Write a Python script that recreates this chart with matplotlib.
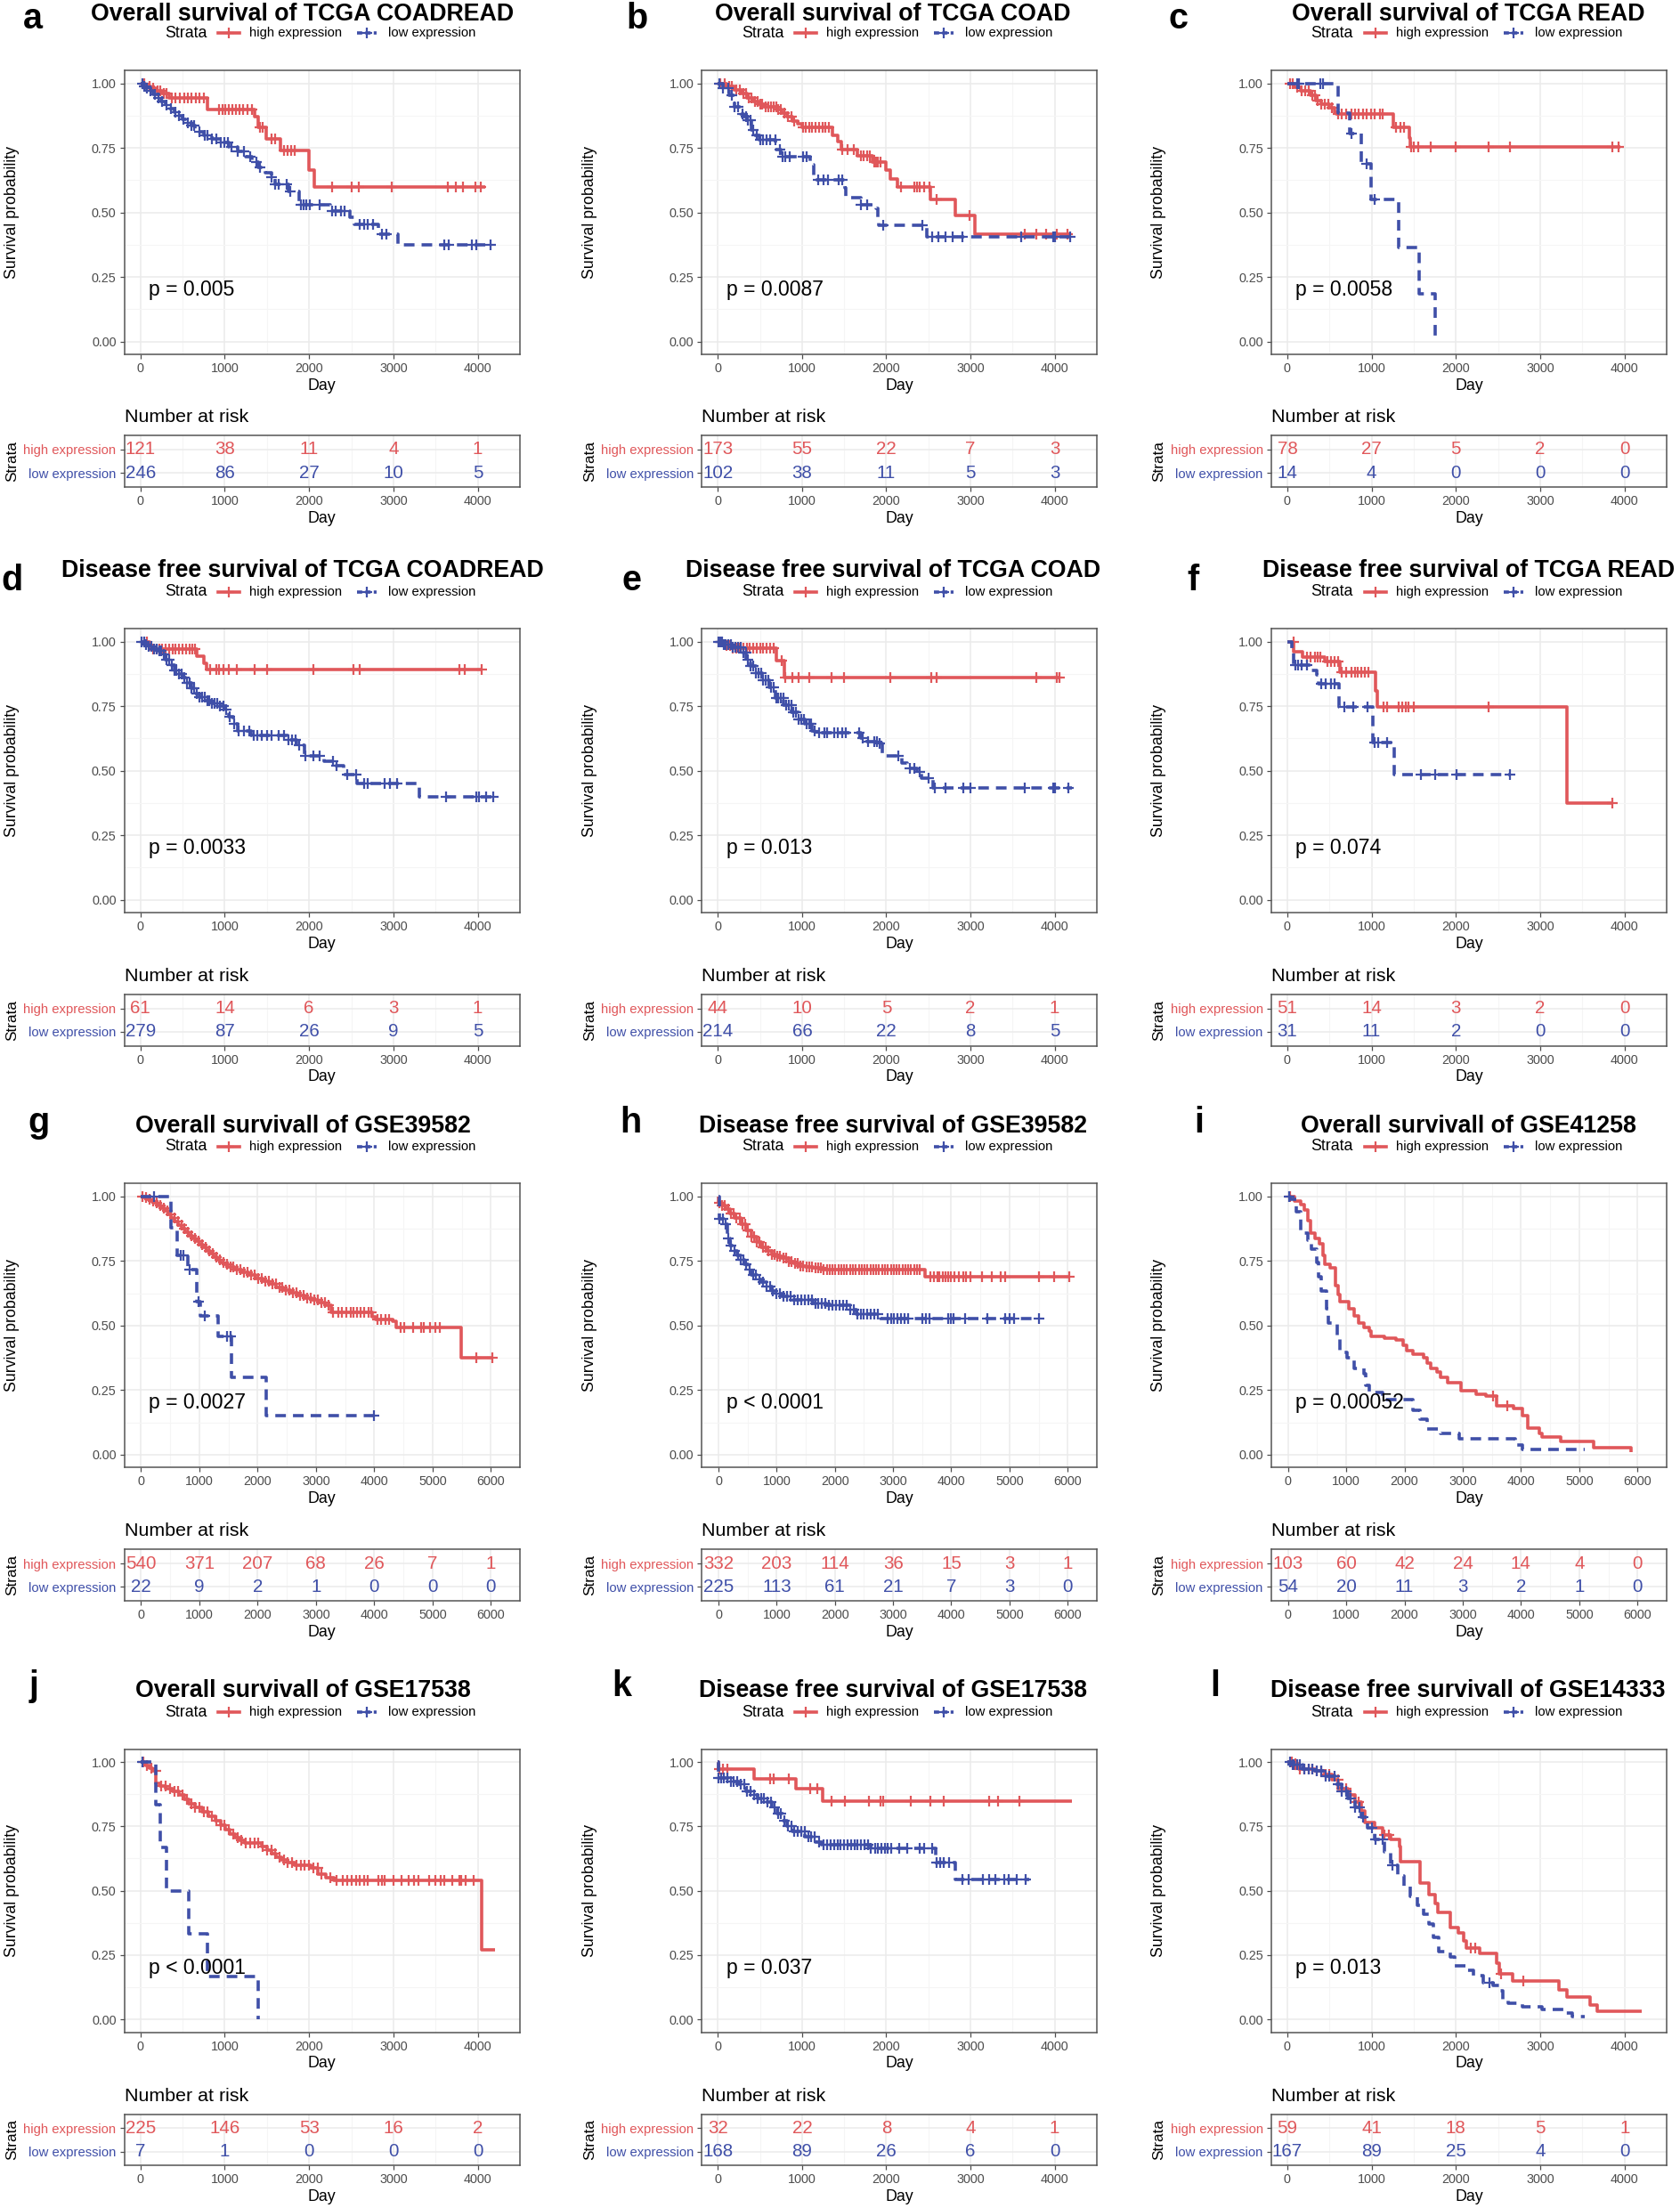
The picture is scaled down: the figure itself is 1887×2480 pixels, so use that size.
import numpy as np
import matplotlib
matplotlib.use("Agg")
import matplotlib.pyplot as plt

plt.rcParams["font.family"] = ["Liberation Sans", "DejaVu Sans"]

RED = "#E0575A"
BLUE = "#3F4FA8"
GRID = "#EBEBEB"
TICKC = "#4D4D4D"
W, H = 1887, 2480

# ---------------- data (step times, survival after step, last follow-up, censor times) ----------------
# a: OS TCGA COADREAD
a_hi_t = [60, 120, 180, 260, 340, 790, 1350, 1395, 1490, 1660, 2000, 2060]
a_hi_s = [0.99, 0.98, 0.97, 0.96, 0.945, 0.90, 0.87, 0.83, 0.785, 0.74, 0.665, 0.60]
a_hi_end = 4090
a_hi_c = [40, 110, 150, 200, 230, 280, 310, 370, 420, 470, 520, 560, 610, 660, 700, 750, 930, 970, 1010, 1050,
          1090, 1130, 1180, 1220, 1270, 1320, 1420, 1450, 1560, 1600, 1700, 1750, 1790, 1830, 2270, 2500, 2590,
          2980, 3640, 3740, 3820, 3970, 4040]
a_lo_t = [30, 60, 100, 150, 200, 250, 300, 350, 400, 450, 500, 550, 600, 650, 700, 750, 850, 950, 1050, 1150,
          1250, 1320, 1400, 1480, 1550, 1600, 1760, 1880, 2250, 2480, 2540, 2820, 3050]
a_lo_s = [0.99, 0.982, 0.97, 0.957, 0.944, 0.93, 0.916, 0.902, 0.888, 0.874, 0.86, 0.848, 0.836, 0.824, 0.812,
          0.80, 0.785, 0.77, 0.755, 0.735, 0.715, 0.695, 0.675, 0.655, 0.635, 0.61, 0.58, 0.53, 0.505, 0.483,
          0.455, 0.417, 0.374]
a_lo_end = 4170
a_lo_c = [20, 50, 80, 120, 170, 210, 260, 310, 360, 410, 460, 510, 560, 600, 640, 700, 760, 800, 850, 900, 950,
          1000, 1040, 1080, 1150, 1230, 1300, 1380, 1420, 1560, 1600, 1640, 1730, 1780, 1900, 1930, 1970, 2010,
          2130, 2270, 2320, 2380, 2420, 2600, 2650, 2700, 2760, 2860, 2920, 3600, 3660, 3930, 3980, 4150]
a_risk_hi = [121, 38, 11, 4, 1]
a_risk_lo = [246, 86, 27, 10, 5]

# b: OS TCGA COAD
b_hi_t = [100, 200, 280, 350, 420, 480, 550, 700, 760, 820, 880, 950, 1000, 1360, 1426, 1465, 1660, 1836,
          1990, 2050, 2130, 2520, 2815, 3047]
b_hi_s = [0.99, 0.975, 0.96, 0.945, 0.93, 0.92, 0.91, 0.90, 0.885, 0.87, 0.855, 0.845, 0.83, 0.80, 0.775,
          0.745, 0.72, 0.695, 0.665, 0.63, 0.597, 0.55, 0.487, 0.417]
b_hi_end = 4190
b_hi_c = [30, 80, 130, 170, 220, 260, 300, 330, 370, 400, 440, 470, 500, 530, 570, 600, 630, 660, 690, 720,
          750, 790, 830, 870, 910, 1010, 1040, 1080, 1120, 1160, 1200, 1240, 1280, 1320, 1480, 1540, 1610, 1700,
          1730, 1770, 1800, 1860, 1880, 1900, 1930, 2170, 2330, 2370, 2400, 2450, 2510, 2600, 2990, 3640, 3780,
          3900, 4020, 4150]
b_lo_t = [60, 137, 195, 273, 300, 352, 400, 430, 490, 684, 742, 1094, 1133, 1504, 1523, 1700, 1875, 1895,
          1914, 2480]
b_lo_s = [0.98, 0.955, 0.91, 0.883, 0.87, 0.857, 0.82, 0.80, 0.78, 0.745, 0.715, 0.686, 0.627, 0.594, 0.558,
          0.529, 0.516, 0.483, 0.45, 0.404]
b_lo_end = 4190
b_lo_c = [20, 60, 120, 160, 200, 240, 290, 330, 360, 390, 420, 460, 500, 540, 580, 620, 680, 740, 770, 800,
          850, 1010, 1050, 1190, 1250, 1310, 1430, 1480, 1700, 1770, 1960, 2430, 2540, 2620, 2700, 2790, 2900,
          3600, 3980, 4000, 4180]
b_risk_hi = [173, 55, 22, 7, 3]
b_risk_lo = [102, 38, 11, 5, 3]

# c: OS TCGA READ
c_hi_t = [80, 160, 280, 340, 400, 500, 560, 580, 1254, 1445, 1457]
c_hi_s = [0.985, 0.97, 0.955, 0.935, 0.92, 0.905, 0.89, 0.88, 0.83, 0.79, 0.755]
c_hi_end = 3950
c_hi_c = [30, 60, 120, 170, 210, 250, 300, 330, 360, 400, 440, 490, 530, 600, 640, 700, 760, 800, 850, 900,
          940, 990, 1040, 1100, 1130, 1290, 1340, 1380, 1470, 1500, 1550, 1700, 2000, 2390, 2640, 3850, 3930]
c_lo_t = [600, 740, 875, 990, 1320, 1565, 1750]
c_lo_s = [0.885, 0.805, 0.69, 0.55, 0.365, 0.183, 0.0]
c_lo_end = 1750
c_lo_c = [120, 140, 390, 420, 760, 940, 1040]
c_risk_hi = [78, 27, 5, 2, 0]
c_risk_lo = [14, 4, 0, 0, 0]

# d: DFS TCGA COADREAD
d_hi_t = [105, 672, 750, 789]
d_hi_s = [0.97, 0.942, 0.917, 0.893]
d_hi_end = 4060
d_hi_c = [80, 150, 190, 220, 260, 300, 340, 380, 420, 460, 500, 540, 580, 620, 650, 830, 900, 930, 980, 1050,
          1140, 1350, 1500, 2050, 2530, 2600, 3780, 3850, 4050]
d_lo_t = [50, 100, 150, 200, 260, 300, 350, 400, 450, 500, 550, 600, 650, 700, 770, 850, 930, 1004, 1050,
          1100, 1150, 1316, 1746, 1850, 1941, 2176, 2293, 2410, 2566, 3309]
d_lo_s = [0.99, 0.98, 0.972, 0.965, 0.95, 0.93, 0.91, 0.89, 0.875, 0.86, 0.84, 0.82, 0.80, 0.785, 0.77, 0.76,
          0.75, 0.738, 0.71, 0.68, 0.655, 0.636, 0.62, 0.60, 0.558, 0.538, 0.518, 0.484, 0.45, 0.398]
d_lo_end = 4200
d_lo_c = [10, 40, 70, 100, 130, 160, 190, 220, 250, 280, 310, 340, 370, 400, 430, 460, 490, 520, 550, 580,
          610, 640, 670, 700, 730, 760, 790, 820, 850, 880, 910, 940, 980, 1020, 1060, 1110, 1160, 1230, 1290,
          1340, 1390, 1440, 1500, 1550, 1640, 1700, 1760, 1800, 1840, 1880, 1960, 2050, 2130, 2280, 2330, 2450,
          2560, 2650, 2700, 2900, 2960, 3040, 3620, 3980, 4010, 4100, 4180]
d_risk_hi = [61, 14, 6, 3, 1]
d_risk_lo = [279, 87, 26, 9, 5]

# e: DFS TCGA COAD
e_hi_t = [60, 150, 690, 790]
e_hi_s = [0.985, 0.975, 0.925, 0.862]
e_hi_end = 4060
e_hi_c = [40, 100, 140, 180, 220, 260, 300, 340, 380, 420, 460, 500, 540, 580, 620, 660, 760, 800, 880, 960,
          1080, 1350, 1500, 2050, 2530, 2600, 3780, 4020, 4060]
e_lo_t = [59, 176, 273, 332, 390, 449, 527, 605, 684, 781, 879, 957, 1035, 1113, 1152, 1699, 1777, 1914,
          1953, 2188, 2246, 2363, 2422, 2559]
e_lo_s = [0.99, 0.978, 0.958, 0.93, 0.904, 0.877, 0.85, 0.822, 0.78, 0.755, 0.728, 0.70, 0.68, 0.654, 0.646,
          0.626, 0.612, 0.606, 0.558, 0.531, 0.51, 0.497, 0.472, 0.432]
e_lo_end = 4200
e_lo_c = [10, 30, 50, 70, 90, 120, 150, 180, 210, 240, 270, 300, 330, 360, 390, 420, 450, 480, 510, 540, 570,
          600, 630, 660, 690, 720, 750, 780, 810, 840, 870, 900, 930, 960, 990, 1020, 1050, 1080, 1110, 1150,
          1200, 1260, 1300, 1380, 1420, 1480, 1520, 1680, 1720, 1780, 1860, 1890, 1920, 2140, 2280, 2330, 2400,
          2500, 2580, 2700, 2920, 3000, 3640, 3980, 4000, 4160]
e_risk_hi = [44, 10, 5, 2, 1]
e_risk_lo = [214, 66, 22, 8, 5]

# f: DFS TCGA READ
f_hi_t = [78, 176, 449, 624, 1042, 1065, 3317]
f_hi_s = [0.96, 0.94, 0.924, 0.883, 0.81, 0.747, 0.374]
f_hi_end = 3870
f_hi_c = [70, 230, 280, 330, 360, 390, 480, 520, 560, 600, 640, 700, 760, 800, 840, 880, 920, 960, 1140, 1180,
          1320, 1360, 1400, 1440, 1500, 2390, 3860]
f_lo_t = [55, 80, 290, 351, 371, 613, 1015, 1268]
f_lo_s = [0.97, 0.91, 0.89, 0.87, 0.835, 0.747, 0.61, 0.485]
f_lo_end = 2650
f_lo_c = [100, 130, 170, 230, 400, 450, 520, 560, 680, 780, 950, 1040, 1080, 1180, 1580, 1750, 2010, 2640]
f_risk_hi = [51, 14, 3, 2, 0]
f_risk_lo = [31, 11, 2, 0, 0]

# g: OS GSE39582
g_hi_t = [50, 100, 160, 220, 280, 340, 400, 460, 520, 580, 640, 700, 760, 820, 880, 940, 1000, 1060, 1120,
          1180, 1240, 1300, 1360, 1420, 1480, 1600, 1720, 1840, 1960, 2080, 2200, 2320, 2440, 2560, 2680, 2800,
          2920, 3040, 3160, 3264, 3967, 4025, 4318, 4377, 5490]
g_hi_s = [0.995, 0.99, 0.983, 0.974, 0.964, 0.954, 0.943, 0.931, 0.918, 0.903, 0.889, 0.875, 0.861, 0.849,
          0.838, 0.826, 0.814, 0.801, 0.789, 0.778, 0.766, 0.755, 0.745, 0.736, 0.728, 0.715, 0.705, 0.695,
          0.683, 0.672, 0.66, 0.648, 0.637, 0.626, 0.616, 0.607, 0.599, 0.589, 0.577, 0.55, 0.535, 0.524,
          0.515, 0.494, 0.375]
g_hi_end = 6030
g_hi_c = [30, 90, 150, 210, 270, 330, 390, 450, 510, 570, 630, 690, 750, 810, 870, 930, 990, 1050, 1110, 1170,
          1230, 1290, 1350, 1410, 1470, 1530, 1590, 1650, 1710, 1770, 1830, 1890, 1950, 2010, 2070, 2130, 2190,
          2250, 2310, 2370, 2430, 2490, 2550, 2610, 2670, 2730, 2790, 2850, 2910, 2970, 3030, 3090, 3150, 3210,
          3300, 3380, 3450, 3520, 3600, 3650, 3700, 3760, 3830, 3900, 3950, 4050, 4120, 4200, 4260, 4450, 4520,
          4660, 4800, 4850, 4960, 5050, 5120, 5750, 6030]
g_lo_t = [510, 627, 803, 949, 1020, 1318, 1553, 2150]
g_lo_s = [0.878, 0.773, 0.718, 0.592, 0.536, 0.459, 0.30, 0.151]
g_lo_end = 4000
g_lo_c = [217, 680, 730, 830, 990, 1096, 1480, 1530, 4000]
g_risk_hi = [540, 371, 207, 68, 26, 7, 1]
g_risk_lo = [22, 9, 2, 1, 0, 0, 0]

# h: DFS GSE39582
h_hi_t = [5, 60, 120, 205, 280, 382, 470, 558, 650, 734, 820, 910, 1000, 1086, 1204, 1300, 1380, 1500, 1615,
          1791, 2000, 3552]
h_hi_s = [0.975, 0.965, 0.952, 0.934, 0.915, 0.892, 0.868, 0.843, 0.822, 0.804, 0.79, 0.776, 0.768, 0.762,
          0.748, 0.74, 0.731, 0.727, 0.724, 0.717, 0.715, 0.69]
h_hi_end = 6050
h_hi_c = [15, 60, 110, 160, 210, 260, 310, 360, 410, 460, 510, 560, 610, 660, 710, 760, 810, 860, 910, 960,
          1010, 1060, 1110, 1160, 1210, 1260, 1310, 1360, 1410, 1460, 1510, 1560, 1610, 1660, 1710, 1760, 1810,
          1860, 1910, 1960, 2010, 2060, 2110, 2160, 2210, 2260, 2310, 2360, 2410, 2460, 2510, 2560, 2610, 2660,
          2710, 2760, 2810, 2860, 2910, 2960, 3010, 3060, 3110, 3160, 3210, 3260, 3310, 3360, 3410, 3460, 3640,
          3700, 3760, 3800, 3850, 3900, 3950, 4000, 4050, 4130, 4200, 4260, 4330, 4530, 4700, 4850, 4930, 5500,
          5760, 6020]
h_lo_t = [8, 88, 147, 205, 260, 323, 380, 440, 500, 558, 650, 734, 820, 910, 1000, 1086, 1262, 1615, 1849,
          2260, 2378, 2789]
h_lo_s = [0.913, 0.892, 0.836, 0.808, 0.79, 0.773, 0.755, 0.738, 0.715, 0.696, 0.68, 0.668, 0.65, 0.634,
          0.622, 0.613, 0.599, 0.585, 0.578, 0.562, 0.543, 0.526]
h_lo_end = 5530
h_lo_c = [20, 70, 120, 170, 220, 280, 330, 380, 430, 480, 540, 590, 640, 700, 760, 820, 880, 940, 1000, 1060,
          1120, 1180, 1240, 1300, 1360, 1420, 1480, 1540, 1600, 1660, 1720, 1780, 1840, 1900, 1960, 2020, 2080,
          2140, 2200, 2260, 2320, 2380, 2440, 2500, 2560, 2620, 2680, 2740, 2900, 2960, 3020, 3080, 3140, 3200,
          3260, 3500, 3560, 3620, 3950, 4000, 4040, 4240, 4620, 4920, 5000, 5080, 5500]
h_risk_hi = [332, 203, 114, 36, 15, 3, 1]
h_risk_lo = [225, 113, 61, 21, 7, 3, 0]

# i: OS GSE41258
i_hi_t = [111, 227, 286, 344, 385, 461, 548, 606, 636, 723, 810, 869, 898, 1044, 1131, 1219, 1306, 1394,
          1423, 1656, 1860, 1977, 2035, 2152, 2327, 2385, 2443, 2560, 2618, 2735, 2968, 3230, 3405, 3580, 3872,
          4017, 4122, 4309, 4367, 4688, 5242, 5895]
i_hi_s = [0.983, 0.969, 0.948, 0.906, 0.857, 0.836, 0.815, 0.773, 0.738, 0.724, 0.654, 0.62, 0.594, 0.564,
          0.536, 0.508, 0.494, 0.48, 0.459, 0.452, 0.443, 0.424, 0.403, 0.389, 0.375, 0.354, 0.333, 0.32, 0.301,
          0.28, 0.248, 0.235, 0.228, 0.189, 0.178, 0.151, 0.102, 0.081, 0.067, 0.053, 0.028, 0.01]
i_hi_end = 5895
i_hi_c = [40, 3520, 3770]
i_lo_t = [30, 140, 227, 344, 402, 490, 519, 577, 665, 694, 840, 898, 1015, 1131, 1306, 1335, 1394, 1627,
          2152, 2268, 2385, 2618, 2939, 3901, 4017]
i_lo_s = [0.99, 0.941, 0.857, 0.829, 0.794, 0.745, 0.689, 0.633, 0.564, 0.508, 0.459, 0.396, 0.375, 0.333,
          0.312, 0.27, 0.242, 0.214, 0.172, 0.137, 0.099, 0.081, 0.06, 0.039, 0.021]
i_lo_end = 5100
i_lo_c = [20]
i_risk_hi = [103, 60, 42, 24, 14, 4, 0]
i_risk_lo = [54, 20, 11, 3, 2, 1, 0]

# j: OS GSE17538
j_hi_t = [40, 67, 110, 145, 184, 240, 301, 380, 458, 520, 575, 650, 732, 810, 888, 950, 1006, 1060, 1123,
          1180, 1241, 1437, 1500, 1554, 1610, 1671, 1750, 1828, 2024, 2102, 2200, 2297, 4047]
j_hi_s = [0.993, 0.985, 0.975, 0.965, 0.918, 0.908, 0.898, 0.885, 0.872, 0.855, 0.838, 0.822, 0.805, 0.788,
          0.771, 0.755, 0.738, 0.72, 0.705, 0.695, 0.684, 0.671, 0.657, 0.644, 0.631, 0.618, 0.608, 0.60, 0.59,
          0.564, 0.552, 0.541, 0.27]
j_hi_end = 4200
j_hi_c = [30, 80, 130, 180, 250, 300, 350, 400, 450, 500, 550, 600, 650, 700, 750, 800, 850, 900, 950, 1000,
          1050, 1100, 1150, 1200, 1250, 1300, 1350, 1400, 1450, 1500, 1550, 1600, 1650, 1700, 1750, 1800, 1850,
          1900, 1950, 2000, 2050, 2100, 2150, 2250, 2330, 2400, 2450, 2500, 2560, 2600, 2650, 2700, 2820, 2860,
          2900, 3000, 3100, 3180, 3240, 3300, 3420, 3500, 3560, 3600, 3700, 3780, 3800, 3860, 3950]
j_lo_t = [180, 240, 310, 570, 800, 1400]
j_lo_s = [0.833, 0.667, 0.5, 0.333, 0.167, 0.0]
j_lo_end = 1400
j_lo_c = [27]
j_risk_hi = [225, 146, 53, 16, 2]
j_risk_lo = [7, 1, 0, 0, 0]

# k: DFS GSE17538
k_hi_t = [8, 430, 928, 1241]
k_hi_s = [0.972, 0.936, 0.896, 0.848]
k_hi_end = 4200
k_hi_c = [20, 60, 110, 620, 660, 840, 1100, 1180, 1350, 1510, 1790, 1930, 1960, 2290, 2520, 2680, 3220, 3330,
          3580]
k_lo_t = [8, 137, 254, 333, 411, 470, 568, 646, 705, 763, 822, 881, 1037, 1155, 1233, 1820, 2583, 2818]
k_lo_s = [0.939, 0.925, 0.912, 0.885, 0.872, 0.858, 0.845, 0.825, 0.798, 0.771, 0.751, 0.731, 0.711, 0.69,
          0.68, 0.664, 0.61, 0.544]
k_lo_end = 3700
k_lo_c = [10, 40, 70, 110, 150, 190, 230, 270, 310, 350, 390, 430, 470, 510, 550, 590, 630, 670, 710, 750,
          790, 830, 870, 910, 950, 990, 1030, 1070, 1110, 1150, 1200, 1250, 1300, 1340, 1380, 1420, 1460, 1500,
          1540, 1580, 1620, 1660, 1700, 1740, 1780, 1820, 1870, 1900, 1940, 1980, 2020, 2060, 2150, 2250, 2400,
          2450, 2540, 2600, 2640, 2680, 2750, 2900, 2980, 3150, 3220, 3300, 3400, 3450, 3550, 3650]
k_risk_hi = [32, 22, 8, 4, 1]
k_risk_lo = [168, 89, 26, 6, 0]

# l: DFS GSE14333
l_hi_t = [59, 137, 332, 449, 527, 605, 722, 800, 878, 917, 1034, 1132, 1229, 1327, 1346, 1573, 1678, 1756,
          1784, 1932, 2029, 2088, 2127, 2283, 2478, 2517, 2673, 3220, 3317, 3590, 3680]
l_hi_s = [0.992, 0.972, 0.965, 0.952, 0.932, 0.898, 0.872, 0.845, 0.811, 0.765, 0.745, 0.718, 0.698, 0.671,
          0.611, 0.53, 0.484, 0.45, 0.417, 0.357, 0.337, 0.303, 0.276, 0.257, 0.217, 0.176, 0.15, 0.116, 0.087,
          0.056, 0.032]
l_hi_end = 4200
l_hi_c = [50, 100, 150, 200, 250, 300, 350, 400, 450, 500, 600, 650, 700, 750, 800, 850, 1150, 1200, 2180,
          2230, 2540, 2800]
l_lo_t = [59, 176, 332, 449, 566, 644, 722, 800, 878, 956, 1034, 1151, 1229, 1307, 1385, 1463, 1541, 1620,
          1678, 1737, 1795, 1932, 1990, 2127, 2205, 2322, 2439, 2517, 2556, 2615, 2790, 3024, 3298, 3376]
l_lo_s = [0.99, 0.972, 0.965, 0.945, 0.912, 0.885, 0.858, 0.825, 0.785, 0.745, 0.698, 0.651, 0.598, 0.557,
          0.517, 0.477, 0.444, 0.41, 0.37, 0.317, 0.263, 0.243, 0.209, 0.189, 0.169, 0.143, 0.13, 0.11, 0.076,
          0.063, 0.049, 0.039, 0.025, 0.009]
l_lo_end = 3530
l_lo_c = [30, 60, 80, 120, 150, 200, 250, 300, 350, 400, 450, 500, 560, 600, 650, 700, 750, 800, 860, 900,
          1000, 1050, 1130, 1250, 2400]
l_risk_hi = [59, 41, 18, 5, 1]
l_risk_lo = [167, 89, 25, 4, 0]

titles = ["Overall survival of TCGA COADREAD", "Overall survival of TCGA COAD", "Overall survival of TCGA READ",
          "Disease free survival of TCGA COADREAD", "Disease free survival of TCGA COAD",
          "Disease free survival of TCGA READ",
          "Overall survivall of GSE39582", "Disease free survival of GSE39582", "Overall survivall of GSE41258",
          "Overall survivall of GSE17538", "Disease free survival of GSE17538",
          "Disease free survivall of GSE14333"]
pvals = ["p = 0.005", "p = 0.0087", "p = 0.0058", "p = 0.0033", "p = 0.013", "p = 0.074",
         "p = 0.0027", "p < 0.0001", "p = 0.00052", "p < 0.0001", "p = 0.037", "p = 0.013"]
letters = list("abcdefghijkl")
xmax = [4000, 4000, 4000, 4000, 4000, 4000, 6000, 6000, 6000, 4000, 4000, 4000]

curves = [
    ((a_hi_t, a_hi_s, a_hi_end, a_hi_c), (a_lo_t, a_lo_s, a_lo_end, a_lo_c), a_risk_hi, a_risk_lo),
    ((b_hi_t, b_hi_s, b_hi_end, b_hi_c), (b_lo_t, b_lo_s, b_lo_end, b_lo_c), b_risk_hi, b_risk_lo),
    ((c_hi_t, c_hi_s, c_hi_end, c_hi_c), (c_lo_t, c_lo_s, c_lo_end, c_lo_c), c_risk_hi, c_risk_lo),
    ((d_hi_t, d_hi_s, d_hi_end, d_hi_c), (d_lo_t, d_lo_s, d_lo_end, d_lo_c), d_risk_hi, d_risk_lo),
    ((e_hi_t, e_hi_s, e_hi_end, e_hi_c), (e_lo_t, e_lo_s, e_lo_end, e_lo_c), e_risk_hi, e_risk_lo),
    ((f_hi_t, f_hi_s, f_hi_end, f_hi_c), (f_lo_t, f_lo_s, f_lo_end, f_lo_c), f_risk_hi, f_risk_lo),
    ((g_hi_t, g_hi_s, g_hi_end, g_hi_c), (g_lo_t, g_lo_s, g_lo_end, g_lo_c), g_risk_hi, g_risk_lo),
    ((h_hi_t, h_hi_s, h_hi_end, h_hi_c), (h_lo_t, h_lo_s, h_lo_end, h_lo_c), h_risk_hi, h_risk_lo),
    ((i_hi_t, i_hi_s, i_hi_end, i_hi_c), (i_lo_t, i_lo_s, i_lo_end, i_lo_c), i_risk_hi, i_risk_lo),
    ((j_hi_t, j_hi_s, j_hi_end, j_hi_c), (j_lo_t, j_lo_s, j_lo_end, j_lo_c), j_risk_hi, j_risk_lo),
    ((k_hi_t, k_hi_s, k_hi_end, k_hi_c), (k_lo_t, k_lo_s, k_lo_end, k_lo_c), k_risk_hi, k_risk_lo),
    ((l_hi_t, l_hi_s, l_hi_end, l_hi_c), (l_lo_t, l_lo_s, l_lo_end, l_lo_c), l_risk_hi, l_risk_lo),
]

# ---------------- layout (pixels) ----------------
col_x = [(139.6, 584.0), (788.3, 1231.9), (1427.8, 1872.1)]
title_cx = [340.0, 1002.8, 1649.2]
legend_x = [185.1, 833.0, 1472.7]
# plot top, plot bottom, table top, table bottom, title baseline, legend y, letter baseline
row_y = [(79.2, 398.0, 489.1, 547.3, 23.0, 37.1, 32.5),
         (706.1, 1025.2, 1117.3, 1174.6, 648.4, 664.6, 663.4),
         (1329.2, 1648.4, 1740.2, 1798.2, 1272.0, 1288.0, 1272.0),
         (1964.6, 2282.5, 2374.7, 2432.3, 1905.8, 1923.3, 1905.0)]
letter_x = [36.4, 715.1, 1323.9, 13.8, 710.0, 1340.0, 43.5, 708.0, 1346.7, 38.4, 698.5, 1364.5]

fig = plt.figure(figsize=(W / 100, H / 100), dpi=100)


def box(x0, y0, x1, y1):
    return [x0 / W, 1 - y1 / H, (x1 - x0) / W, (y1 - y0) / H]


def style_axes(ax, xm):
    ax.set_xlim(-0.0478 * xm, 1.0488 * xm)
    ax.set_xticks(np.arange(0, xm + 1, 1000))
    ax.set_xticks(np.arange(500, xm + 501, 1000), minor=True)
    ax.grid(which="major", color=GRID, lw=1.1)
    ax.grid(which="minor", color="#F5F5F5", lw=0.8)
    ax.set_axisbelow(True)
    ax.tick_params(which="major", length=3.5, width=0.9, color=TICKC, labelcolor=TICKC, labelsize=10.4, pad=3)
    ax.tick_params(which="minor", length=0)
    for sp in ax.spines.values():
        sp.set_color("#555555")
        sp.set_linewidth(1.1)


def draw_curve(ax, t, s, end, cens, color, dashed):
    x = [0] + list(t) + [end]
    y = [1.0] + list(s) + [s[-1]]
    kw = dict(dashes=(3.3, 2.2)) if dashed else {}
    ax.plot(x, y, drawstyle="steps-post", color=color, lw=2.6, solid_capstyle="butt", **kw)
    yy = np.concatenate([[1.0], s])[np.searchsorted(t, cens, side="right")]
    ax.plot(cens, yy, ls="none", marker="+", ms=9, mew=1.6, color=color)


for k in range(12):
    r, c = divmod(k, 3)
    x0, x1 = col_x[c]
    py0, py1, ty0, ty1, tb, ly, lb = row_y[r]
    hi, lo, risk_hi, risk_lo = curves[k]
    xm = xmax[k]

    ax = fig.add_axes(box(x0, py0, x1, py1))
    style_axes(ax, xm)
    ax.set_ylim(-0.05, 1.05)
    ax.set_yticks([0, 0.25, 0.5, 0.75, 1.0])
    ax.set_yticklabels(["0.00", "0.25", "0.50", "0.75", "1.00"])
    ax.set_yticks([0.125, 0.375, 0.625, 0.875], minor=True)
    draw_curve(ax, *hi, RED, False)
    draw_curve(ax, *lo, BLUE, True)
    ax.text(100 if xm == 4000 else 130, 0.2, pvals[k], fontsize=16.6, ha="left", va="center")

    rt = fig.add_axes(box(x0, ty0, x1, ty1))
    style_axes(rt, xm)
    rt.set_ylim(-0.6, 1.6)
    rt.set_yticks([0, 1])
    rt.set_yticklabels(["low expression", "high expression"])
    for lab, colr in zip(rt.get_yticklabels(), [BLUE, RED]):
        lab.set_color(colr)
        lab.set_fontsize(10.7)
    ticks = np.arange(0, xm + 1, 1000)
    for tx, nh, nl in zip(ticks, risk_hi, risk_lo):
        rt.text(tx, 1, str(nh), color=RED, fontsize=14.8, ha="center", va="center")
        rt.text(tx, 0, str(nl), color=BLUE, fontsize=14.8, ha="center", va="center")

# overlay for titles, legends and labels
ov = fig.add_axes([0, 0, 1, 1])
ov.set_xlim(0, W)
ov.set_ylim(H, 0)
ov.axis("off")

for k in range(12):
    r, c = divmod(k, 3)
    x0, x1 = col_x[c]
    py0, py1, ty0, ty1, tb, ly, lb = row_y[r]
    cx = (x0 + x1) / 2
    ov.text(letter_x[k], lb, letters[k], fontsize=28.5, fontweight="bold", ha="center", va="baseline")
    ov.text(title_cx[c], tb, titles[k], fontsize=19.3, fontweight="bold", ha="center", va="baseline")
    sx = legend_x[c]
    ov.text(sx, ly, "Strata", fontsize=12.8, ha="left", va="center")
    ov.plot([sx + 60, sx + 84], [ly, ly], color=RED, lw=2.6)
    ov.plot([sx + 72], [ly], marker="+", ms=9, mew=1.6, color=RED)
    ov.text(sx + 95, ly, "high expression", fontsize=10.7, ha="left", va="center")
    ov.plot([sx + 216, sx + 238], [ly, ly], color=BLUE, lw=2.6, dashes=(1.6, 1.0))
    ov.plot([sx + 227], [ly], marker="+", ms=9, mew=1.6, color=BLUE)
    ov.text(sx + 251, ly, "low expression", fontsize=10.7, ha="left", va="center")
    ov.text(x0 - 126, (py0 + py1) / 2, "Survival probability", fontsize=12.8, rotation=90, ha="center", va="center")
    ov.text(cx, py1 + 35, "Day", fontsize=12.8, ha="center", va="center")
    ov.text(x0, ty0 - 20.5, "Number at risk", fontsize=15.4, ha="left", va="center")
    ov.text(x0 - 126, (ty0 + ty1) / 2, "Strata", fontsize=12.4, rotation=90, ha="center", va="center")
    ov.text(cx, ty1 + 35, "Day", fontsize=12.8, ha="center", va="center")

fig.savefig("out.png", dpi=100)
